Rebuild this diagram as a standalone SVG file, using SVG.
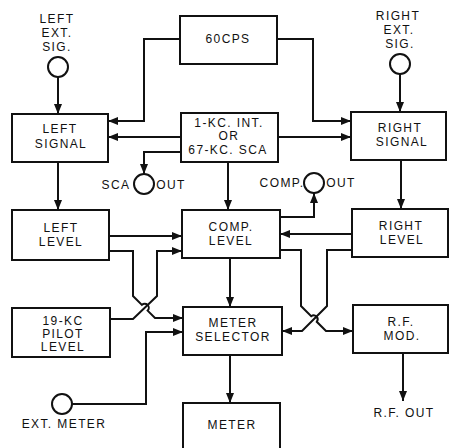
<svg xmlns="http://www.w3.org/2000/svg" width="456" height="448" viewBox="0 0 456 448">
<style>
.b{fill:#fff;stroke:#111;stroke-width:2}
.c{fill:none;stroke:#111;stroke-width:2}
.t{font-family:"Liberation Sans",Arial,sans-serif;font-size:12px;letter-spacing:1.4px;fill:#111;text-anchor:middle}
</style>
<defs>
<marker id="ar" viewBox="0 0 10 8" refX="10" refY="4" markerWidth="10" markerHeight="8" markerUnits="userSpaceOnUse" orient="auto">
<path d="M0,0 L10,4 L0,8 z" fill="#111"/>
</marker>
</defs>
<rect width="456" height="448" fill="#fff"/>
<g id="connectors" class="c" marker-end="url(#ar)">
<path d="M58,77 V114"/>
<path d="M180,39 H144 V121 H108"/>
<path d="M181,137 H108"/>
<path d="M181,152 H144 V174"/>
<path d="M277,39 H313 V121 H351"/>
<path d="M278,137 H351"/>
<path d="M400,74 V112"/>
<path d="M58,162 V210"/>
<path d="M228,162 V210"/>
<path d="M401,160 V209"/>
<path d="M280,217 H314 V193"/>
<path d="M109,236 H182"/>
<path d="M109,251 H133 V296 L141.9,304.9 A4,4 0 0 1 147.6,310.6 L155,318 H183"/>
<path d="M110,319 H133 L157,296 V251 H182"/>
<path d="M352,234 H280"/>
<path d="M280,250 H301 V306 L311.2,316.2 A4,4 0 0 1 316.8,321.8 L326,331 H353"/>
<path d="M352,250 H327 V306 L302,331 H282"/>
<path d="M230,258 V307"/>
<path d="M72,404 H146 V332 H183"/>
<path d="M230,355 V403"/>
<path d="M403,353 V401"/>
</g>
<g id="left-ext-sig"><circle class="b" cx="58" cy="67" r="10"/><text class="t" x="57" y="23">LEFT</text><text class="t" x="57" y="37">EXT.</text><text class="t" x="57" y="51">SIG.</text></g>
<g id="right-ext-sig"><circle class="b" cx="400" cy="64" r="10"/><text class="t" x="398" y="20">RIGHT</text><text class="t" x="399" y="34">EXT.</text><text class="t" x="400" y="48">SIG.</text></g>
<g id="cps60"><rect class="b" x="180" y="16" width="97" height="48"/><text class="t" x="228" y="43">60CPS</text></g>
<g id="osc"><rect class="b" x="181" y="113" width="97" height="49"/><text class="t" x="229" y="127">1-KC. INT.</text><text class="t" x="229" y="140">OR</text><text class="t" x="228" y="154">67-KC. SCA</text></g>
<g id="left-signal"><rect class="b" x="12" y="114" width="96" height="48"/><text class="t" x="60" y="133">LEFT</text><text class="t" x="61" y="148">SIGNAL</text></g>
<g id="right-signal"><rect class="b" x="351" y="112" width="95" height="48"/><text class="t" x="400" y="132">RIGHT</text><text class="t" x="402" y="146">SIGNAL</text></g>
<g id="sca-out"><circle class="b" cx="144" cy="184" r="10"/><text class="t" x="116" y="189">SCA</text><text class="t" x="171" y="189">OUT</text></g>
<g id="comp-out"><circle class="b" cx="314" cy="183" r="10"/><text class="t" x="282" y="187">COMP.</text><text class="t" x="341" y="187">OUT</text></g>
<g id="left-level"><rect class="b" x="12" y="210" width="97" height="50"/><text class="t" x="61" y="232">LEFT</text><text class="t" x="61" y="246">LEVEL</text></g>
<g id="comp-level"><rect class="b" x="182" y="210" width="98" height="48"/><text class="t" x="231" y="231">COMP.</text><text class="t" x="231" y="245">LEVEL</text></g>
<g id="right-level"><rect class="b" x="352" y="209" width="96" height="48"/><text class="t" x="401" y="230">RIGHT</text><text class="t" x="402" y="244">LEVEL</text></g>
<g id="pilot-level"><rect class="b" x="12" y="308" width="98" height="49"/><text class="t" x="63" y="325">19-KC</text><text class="t" x="63" y="338">PILOT</text><text class="t" x="63" y="351">LEVEL</text></g>
<g id="meter-selector"><rect class="b" x="183" y="307" width="99" height="48"/><text class="t" x="233" y="327">METER</text><text class="t" x="233" y="341">SELECTOR</text></g>
<g id="rf-mod"><rect class="b" x="353" y="305" width="95" height="48"/><text class="t" x="401" y="326">R.F.</text><text class="t" x="402" y="340">MOD.</text></g>
<g id="rf-out"><text class="t" x="404" y="417">R.F. OUT</text></g>
<g id="ext-meter"><circle class="b" cx="62" cy="404" r="10"/><text class="t" x="64" y="428">EXT. METER</text></g>
<g id="meter"><rect class="b" x="183" y="403" width="97" height="50"/><text class="t" x="232" y="429">METER</text></g>
</svg>
